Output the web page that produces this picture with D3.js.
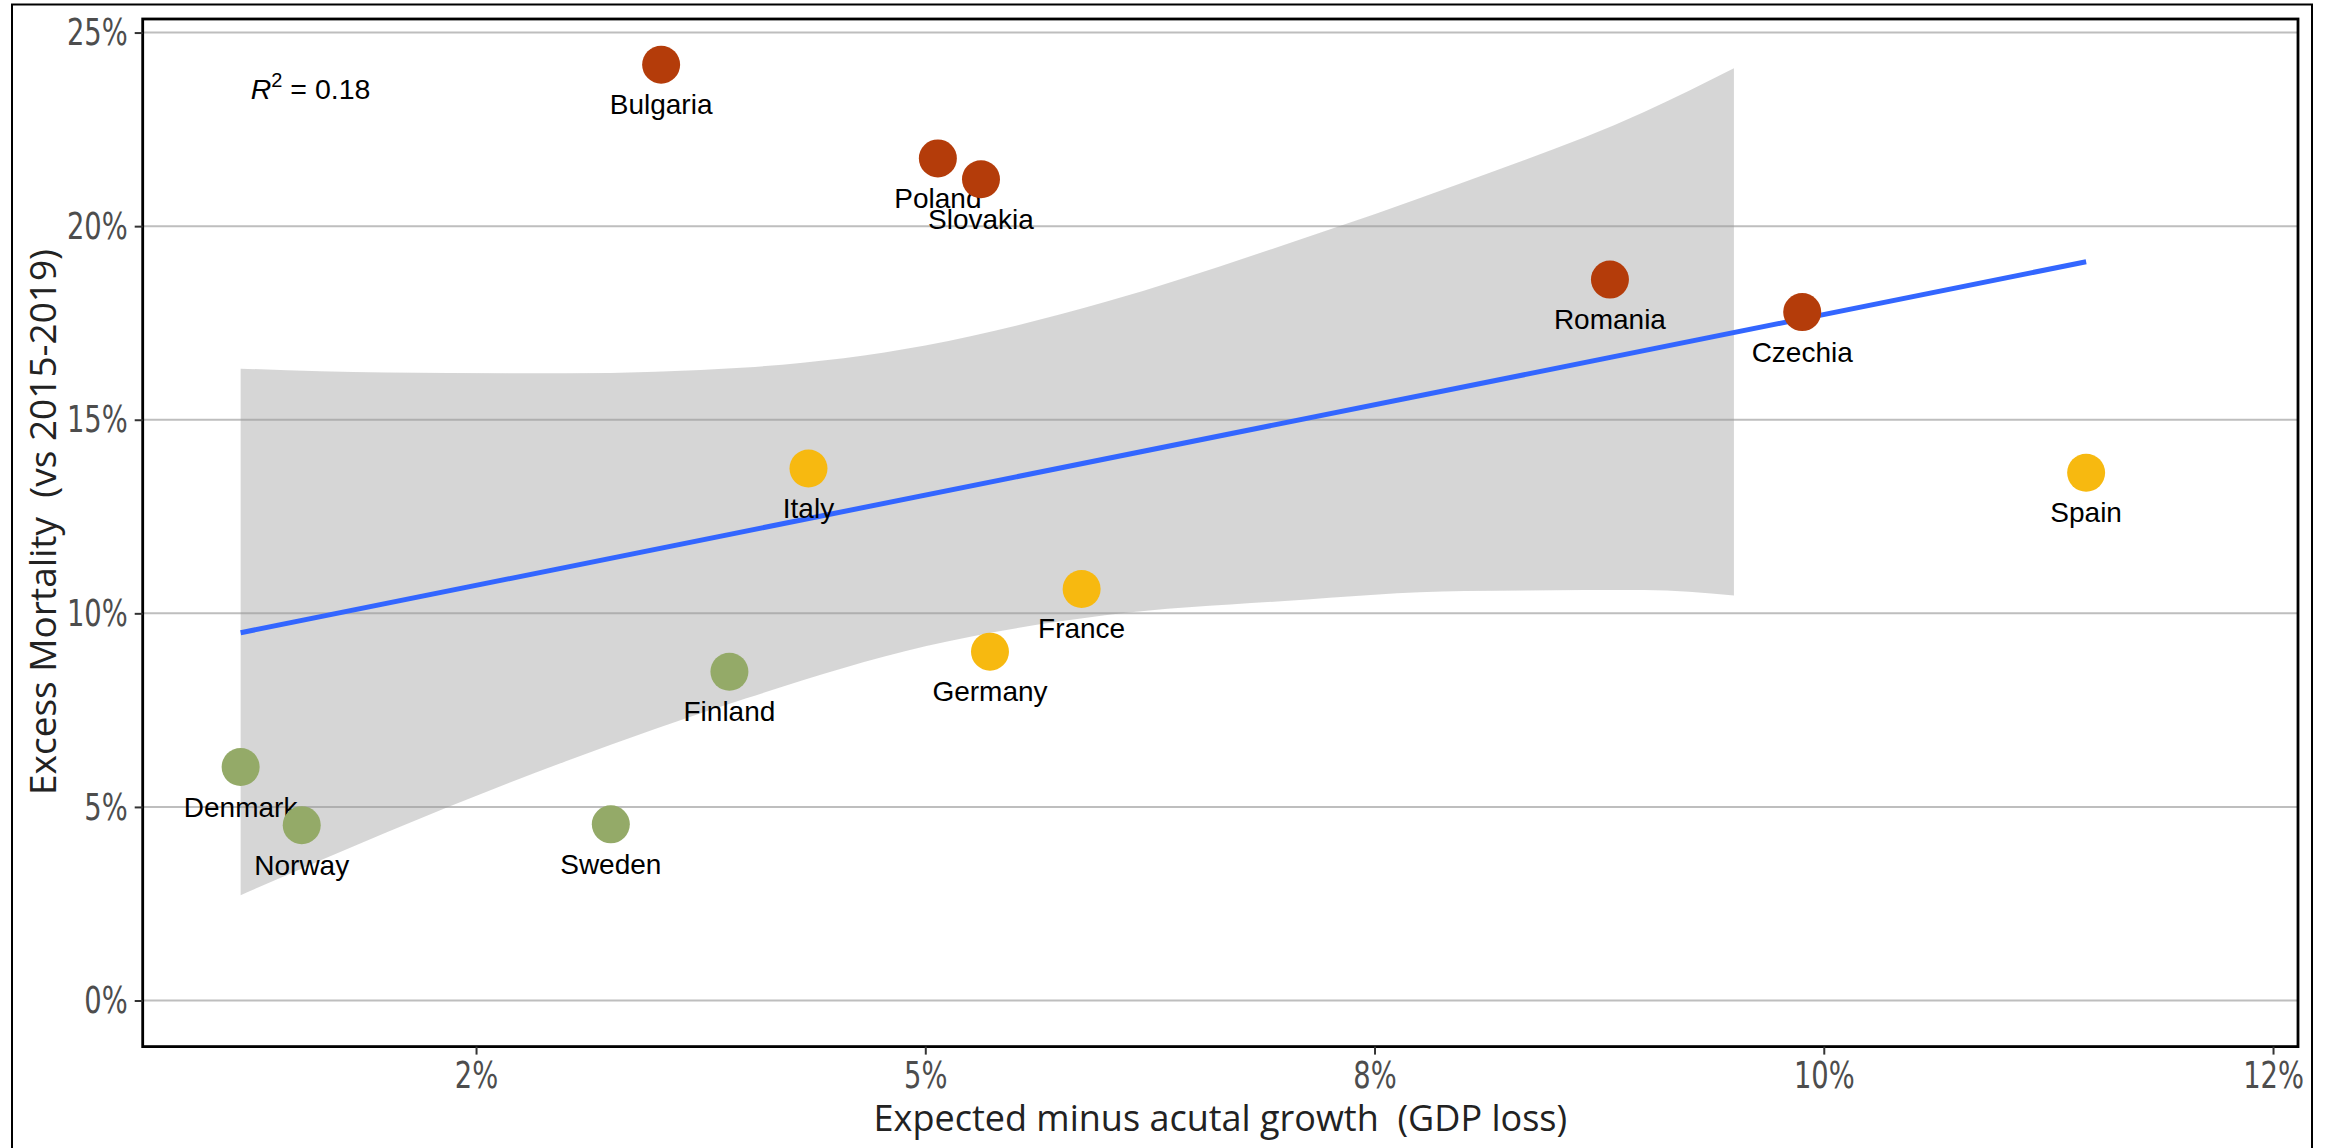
<!DOCTYPE html>
<html>
<head>
<meta charset="utf-8">
<script src="https://cdn.jsdelivr.net/npm/d3@7"></script>
<style>
  html, body { margin: 0; padding: 0; background: #fff; }
  svg { display: block; }
</style>
</head>
<body>
<div id="chart"></div>
<script>
// ---------- data ----------
const countries = ["Denmark","Norway","Sweden","Finland","Bulgaria","Italy","Poland","Slovakia","Germany","France","Romania","Czechia","Spain"];
const gdpLoss   = [1.19, 1.53, 3.25, 3.91, 3.53, 4.35, 5.07, 5.31, 5.36, 5.87, 8.81, 9.88, 11.46];
const excessMort= [6.03, 4.53, 4.55, 8.49, 24.17, 13.74, 21.75, 21.21, 9.01, 10.63, 18.62, 17.78, 13.63];
const groups    = ["north","north","north","north","east","south","east","east","south","south","east","east","south"];

const groupNames  = ["north","south","east"];
const groupColors = ["#94AA68","#F7B910","#B43C0A"];

// regression line end points (x %, y %)
const fitX = [1.19, 11.46];
const fitY = [9.50, 19.08];

// confidence band
const bandX     = [1.19, 2.0, 3.0, 4.0, 5.0, 6.0, 7.0, 8.0, 9.0, 9.5];
const bandUpper = [16.32, 16.22, 16.20, 16.35, 16.92, 18.04, 19.52, 21.14, 22.95, 24.08];
const bandLower = [2.72, 4.34, 6.18, 7.80, 9.15, 9.95, 10.32, 10.58, 10.60, 10.46];

const xTickValues = [2.5, 5, 7.5, 10, 12.5];
const xTickLabels = ["2%", "5%", "8%", "10%", "12%"];
const yTickValues = [0, 5, 10, 15, 20, 25];
const yTickLabels = ["0%", "5%", "10%", "15%", "20%", "25%"];

const xTitle = "Expected minus acutal growth  (GDP loss)";
const yTitle = "Excess Mortality  (vs 2015-2019)";
const r2Value = "0.18";

// ---------- layout ----------
const W = 2331, H = 1148;
const panel = { left: 142.7, right: 2298, top: 19, bottom: 1046.6 };

const svg = d3.select("#chart").append("svg")
  .attr("width", W).attr("height", H);

svg.append("rect").attr("width", W).attr("height", H).attr("fill", "#fff");

// outer frame
svg.append("rect")
  .attr("x", 12).attr("y", 4.5)
  .attr("width", 2312 - 12).attr("height", 1200)
  .attr("fill", "none").attr("stroke", "#000").attr("stroke-width", 2);

const x = d3.scaleLinear().domain([0.645, 12.639]).range([panel.left, panel.right]);
const y = d3.scaleLinear().domain([-1.19, 25.35]).range([panel.bottom, panel.top]);

const colorScale = d3.scaleOrdinal().domain(groupNames).range(groupColors);

// gridlines
svg.append("g").selectAll("line").data(yTickValues).join("line")
  .attr("x1", panel.left).attr("x2", panel.right)
  .attr("y1", d => y(d)).attr("y2", d => y(d))
  .attr("stroke", "#BEBEBE").attr("stroke-width", 2);

// confidence ribbon
const bandData = bandX.map((v, i) => ({ x: v, lo: bandLower[i], hi: bandUpper[i] }));
svg.append("path")
  .datum(bandData)
  .attr("d", d3.area().x(d => x(d.x)).y0(d => y(d.lo)).y1(d => y(d.hi)).curve(d3.curveMonotoneX))
  .attr("fill", "#999999").attr("fill-opacity", 0.4);

// fit line
svg.append("path")
  .datum(fitX.map((v, i) => [v, fitY[i]]))
  .attr("d", d3.line().x(d => x(d[0])).y(d => y(d[1])))
  .attr("stroke", "#3366FF").attr("stroke-width", 5).attr("fill", "none");

const pts = countries.map((c, i) => ({ name: c, x: gdpLoss[i], y: excessMort[i], g: groups[i] }));

// labels (under points)
svg.append("g").selectAll("text").data(pts).join("text")
  .attr("x", d => x(d.x))
  .attr("y", d => y(d.y) + 49.5)
  .attr("text-anchor", "middle")
  .attr("font-family", "'Liberation Sans', Arial, sans-serif")
  .attr("font-size", 28)
  .attr("fill", "#000")
  .text(d => d.name);

// points
svg.append("g").selectAll("circle").data(pts).join("circle")
  .attr("cx", d => x(d.x)).attr("cy", d => y(d.y))
  .attr("r", 19)
  .attr("fill", d => colorScale(d.g));

// panel border
svg.append("rect")
  .attr("x", panel.left).attr("y", panel.top)
  .attr("width", panel.right - panel.left).attr("height", panel.bottom - panel.top)
  .attr("fill", "none").attr("stroke", "#000").attr("stroke-width", 2.8);

// axes
const tickFont = "'Liberation Sans Narrow', 'DejaVu Sans Condensed', sans-serif";
const squeeze = 0.8;
const xAxis = d3.axisBottom(x).tickValues(xTickValues)
  .tickFormat((d, i) => xTickLabels[i]).tickSize(8).tickPadding(6);
const gx = svg.append("g").attr("transform", `translate(0,${panel.bottom})`).call(xAxis);
gx.select(".domain").remove();
gx.selectAll(".tick line").attr("stroke", "#333").attr("stroke-width", 2);
gx.selectAll(".tick text").attr("font-family", tickFont).attr("font-size", 38)
  .attr("fill", "#4D4D4D")
  .attr("transform", `scale(${squeeze},1)`);

const yAxis = d3.axisLeft(y).tickValues(yTickValues)
  .tickFormat((d, i) => yTickLabels[i]).tickSize(8).tickPadding(7);
const gy = svg.append("g").attr("transform", `translate(${panel.left},0)`).call(yAxis);
gy.select(".domain").remove();
gy.selectAll(".tick line").attr("stroke", "#333").attr("stroke-width", 2);
gy.selectAll(".tick text").each(function () {
  const t = d3.select(this);
  const xv = +t.attr("x");
  t.attr("x", 0).attr("transform", `translate(${xv},0) scale(${squeeze},1)`);
}).attr("font-family", tickFont).attr("font-size", 38).attr("fill", "#4D4D4D");

// axis titles
svg.append("text")
  .attr("x", (panel.left + panel.right) / 2).attr("y", 1131)
  .attr("text-anchor", "middle")
  .attr("font-family", "'Open Sans', Lato, sans-serif")
  .attr("font-size", 36).attr("fill", "#222")
  .style("white-space", "pre")
  .text(xTitle);

svg.append("text")
  .attr("transform", `translate(56,522) rotate(-90)`)
  .attr("text-anchor", "middle")
  .attr("font-family", "'Open Sans', Lato, sans-serif")
  .attr("font-size", 37).attr("fill", "#222")
  .style("white-space", "pre")
  .text(yTitle);

// R^2 annotation
const r2 = svg.append("text")
  .attr("x", 250.7).attr("y", 99)
  .attr("font-family", "'Liberation Sans', Arial, sans-serif")
  .attr("font-size", 28.5).attr("fill", "#000");
r2.append("tspan").attr("font-style", "italic").text("R");
r2.append("tspan").attr("font-size", 20).attr("dy", -12).text("2");
r2.append("tspan").attr("dy", 12).style("white-space", "pre").text(" = " + r2Value);
</script>
</body>
</html>
